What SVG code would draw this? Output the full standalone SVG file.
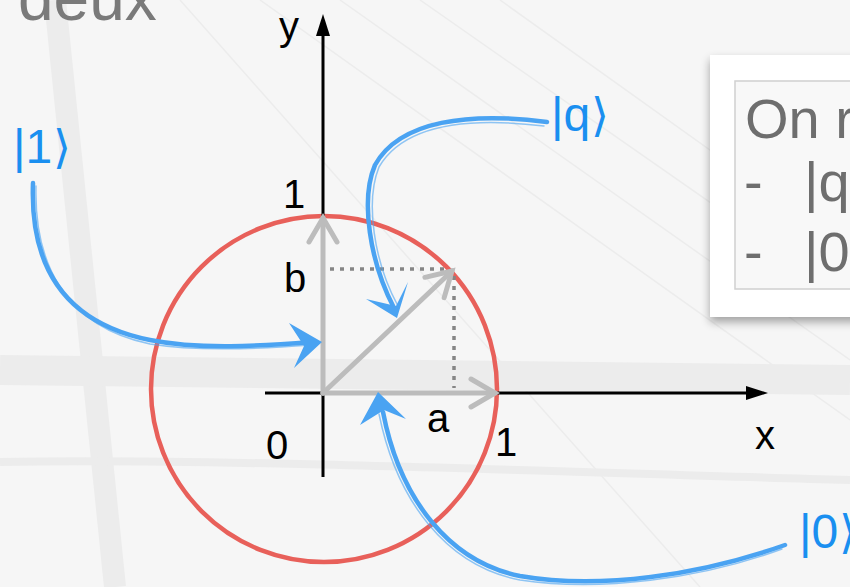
<svg xmlns="http://www.w3.org/2000/svg" width="850" height="587" viewBox="0 0 850 587">
  <defs>
    <style>
      .axis { stroke: #000; stroke-width: 3; fill: none; }
      .vec { stroke: #bcbcbc; stroke-width: 5; fill: none; stroke-linecap: round; }
      .dot { stroke: #858585; stroke-width: 3.5; stroke-dasharray: 4 6; fill: none; }
      .lbl { font-family: "Liberation Sans", Arial, sans-serif; font-size: 40px; fill: #000; }
      .ket { font-family: "Liberation Sans", "DejaVu Sans", sans-serif; font-size: 48px; fill: #1a8ff0; }
      .br { font-family: "DejaVu Sans", sans-serif; font-size: 46px; font-weight: 200; }
      .brush { stroke: #4aa3f2; fill: none; stroke-linecap: round; }
      .bhead { fill: #4aa3f2; }
      .box { font-family: "Liberation Sans", Arial, sans-serif; font-size: 56px; fill: #6e6e6e; }
      .bg { stroke: #ececec; fill: none; }
    </style>
    <marker id="vhead" markerUnits="userSpaceOnUse" markerWidth="40" markerHeight="40" refX="0" refY="0" viewBox="-30 -20 40 40" orient="auto">
      <path d="M-24,-14 L0,0 L-24,14" stroke="#bcbcbc" stroke-width="5" fill="none" stroke-linecap="round"/>
    </marker>
    <filter id="shadow" x="-20%" y="-20%" width="140%" height="140%">
      <feGaussianBlur in="SourceAlpha" stdDeviation="5"/>
      <feOffset dx="0" dy="5" result="b"/>
      <feComponentTransfer><feFuncA type="linear" slope="0.35"/></feComponentTransfer>
      <feMerge><feMergeNode/><feMergeNode in="SourceGraphic"/></feMerge>
    </filter>
  </defs>

  <!-- background -->
  <rect x="0" y="0" width="850" height="587" fill="#f6f6f6"/>
  <g id="background">
    <path class="bg" stroke-width="22" d="M55,0 L115,587" stroke="#efefef"/>
    <path class="bg" stroke-width="1.5" d="M260,0 L850,420"/>
    <path class="bg" stroke-width="1.5" d="M340,0 L850,360"/>
    <path class="bg" stroke-width="1.5" d="M420,0 L850,300"/>
    <path class="bg" stroke-width="1.5" d="M500,0 L850,250"/>
    <path class="bg" stroke-width="1.5" d="M180,0 L700,587"/>
    <path class="bg" stroke-width="8" d="M0,462 C200,458 500,470 850,480" stroke="#efefef"/>
    <path class="bg" stroke-width="30" d="M0,370 L850,380" stroke="#f1f1f1"/>
  </g>

  <!-- title -->
  <text x="18" y="20" font-family="Liberation Sans, Arial, sans-serif" font-size="64" fill="#7a7a7a">deux</text>

  <!-- unit circle -->
  <g id="circle">
    <circle cx="324" cy="389" r="173" fill="none" stroke="#e8605a" stroke-width="4.5"/>
  </g>

  <!-- axes -->
  <g id="axes">
    <line class="axis" x1="323" y1="477" x2="323" y2="30"/>
    <polygon points="323,14 316,36 330,36" fill="#000"/>
    <line class="axis" x1="265" y1="393" x2="752" y2="393"/>
    <polygon points="768,393 746,386 746,400" fill="#000"/>
    <text class="lbl" x="279" y="40">y</text>
    <text class="lbl" x="755" y="449">x</text>
  </g>

  <!-- vectors -->
  <g id="vectors">
    <line class="dot" x1="330" y1="269" x2="450" y2="269"/>
    <line class="dot" x1="454" y1="276" x2="454" y2="388"/>
    <line class="vec" x1="323" y1="393" x2="323" y2="218" marker-end="url(#vhead)"/>
    <line class="vec" x1="323" y1="393" x2="495" y2="393" marker-end="url(#vhead)"/>
    <line class="vec" x1="323" y1="393" x2="452" y2="271" marker-end="url(#vhead)"/>
  </g>

  <!-- axis labels -->
  <g id="labels">
    <text class="lbl" x="283" y="208">1</text>
    <text class="lbl" x="284" y="292">b</text>
    <text class="lbl" x="266" y="459">0</text>
    <text class="lbl" x="427" y="432">a</text>
    <text class="lbl" x="495" y="456">1</text>
  </g>

  <!-- info box -->
  <g id="infobox">
    <rect x="710" y="55" width="160" height="262" fill="#ffffff" filter="url(#shadow)"/>
    <rect x="735" y="81" width="130" height="208" fill="#f8f8f8" stroke="#d0d0d0" stroke-width="1.5"/>
    <text class="box" x="745" y="138">On r</text>
    <text class="box" x="744" y="201" font-size="44">-</text>
    <text class="box" x="804" y="201">|q</text>
    <text class="box" x="744" y="271" font-size="44">-</text>
    <text class="box" x="804" y="271">|0</text>
  </g>

  <!-- ket labels -->
  <g id="ket1"><text class="ket" x="13" y="163">|1<tspan class="br" dx="1">⟩</tspan></text></g>
  <g id="ketq"><text class="ket" x="551" y="131">|q<tspan class="br" dx="1">⟩</tspan></text></g>
  <g id="ket0"><text class="ket" x="799" y="548">|0<tspan class="br" dx="1">⟩</tspan></text></g>

  <!-- connectors -->
  <g id="connectors">
    <g id="arrow-1">
      <path class="brush" stroke-width="4.5" d="M33,183 C30,262 60,322 150,340 C200,350 260,346 312,342"/>
      <path class="brush" stroke-width="1.5" opacity="0.6" d="M36,186 C34,262 64,326 150,344 C200,352 260,349 310,345"/>
      <path class="bhead" d="M289,323 L322,342 L294,368 L304,346 Z"/>
    </g>
    <g id="arrow-q">
      <path class="brush" stroke-width="4.5" d="M547,122 C470,112 400,120 375,165 C360,200 370,262 394,308"/>
      <path class="brush" stroke-width="1.5" opacity="0.6" d="M544,126 C470,117 404,124 379,167 C365,202 374,262 398,306"/>
      <path class="bhead" d="M366,299 L397,318 L408,282 L396,306 Z"/>
    </g>
    <g id="arrow-0">
      <path class="brush" stroke-width="4.5" d="M785,545 C700,575 600,590 520,576 C450,562 400,500 383,412"/>
      <path class="brush" stroke-width="1.5" opacity="0.6" d="M782,549 C700,579 600,592 520,580 C447,566 397,502 379,414"/>
      <path class="bhead" d="M360,425 L378,392 L406,419 L384,410 Z"/>
    </g>
  </g>
</svg>
